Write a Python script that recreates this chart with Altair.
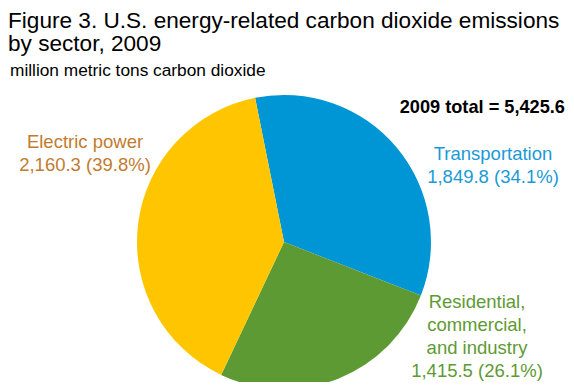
import math
import altair as alt
import pandas as pd

sectors = ["Transportation", "Residential, commercial, and industry", "Electric power"]
values = [1849.8, 1415.5, 2160.3]
percents = [34.1, 26.1, 39.8]
slice_colors = ["#0096D6", "#5E9A33", "#FFC600"]
label_colors = ["#1A9AD6", "#5E9A33", "#C27B2E"]
label_texts = [
    "Transportation\n1,849.8 (34.1%)",
    "Residential,\ncommercial,\nand industry\n1,415.5 (26.1%)",
    "Electric power\n2,160.3 (39.8%)",
]
total_text = "2009 total  = 5,425.6"
title_text = "Figure 3. U.S. energy-related carbon dioxide emissions\n\u2005by sector, 2009"
subtitle = "million metric tons carbon dioxide"

df = pd.DataFrame({
    "sector": sectors,
    "value": values,
    "pct": percents,
    "idx": list(range(len(sectors))),
    "label": label_texts,
})

start = -0.198
FONT = "Liberation Sans"

arc = alt.Chart(df).mark_arc(radius=147, stroke=None).encode(
    theta=alt.Theta("value:Q", stack=True,
                    scale=alt.Scale(range=[start, start + 2 * math.pi])),
    order=alt.Order("idx:Q"),
    color=alt.Color("sector:N", scale=alt.Scale(domain=sectors, range=slice_colors), legend=None),
    x=alt.value(276),
    y=alt.value(234),
)

def label_layer(i, x, y):
    return alt.Chart(df).transform_filter(
        alt.datum.idx == i
    ).mark_text(
        font=FONT, fontSize=18.5, align="center", baseline="alphabetic",
        lineBreak="\n", lineHeight=23, color=label_colors[i]
    ).encode(text="label:N", x=alt.value(x), y=alt.value(y))

lab_t = label_layer(0, 485, 152)
lab_r = label_layer(1, 469, 300)
lab_e = label_layer(2, 77, 140)

def static_text(txt, x, y, size, weight="normal", align="left", color="black"):
    return alt.Chart(pd.DataFrame({"t": [txt]})).mark_text(
        font=FONT, fontSize=size, fontWeight=weight, align=align,
        baseline="alphabetic", color=color, lineBreak="\n", lineHeight=23
    ).encode(text="t:N", x=alt.value(x), y=alt.value(y))

t1 = static_text(title_text, 0, 20, 22.6)
t3 = static_text(subtitle, 2, 68, 17.3)
tot = static_text(total_text, 557, 105, 18.2, weight="bold", align="right")

chart = alt.layer(arc, lab_t, lab_r, lab_e, t1, t3, tot).properties(
    width=558, height=374, padding=0, autosize="none"
).configure_view(stroke=None)

chart.save("out.html", embed_options={"renderer": "svg", "actions": False})
